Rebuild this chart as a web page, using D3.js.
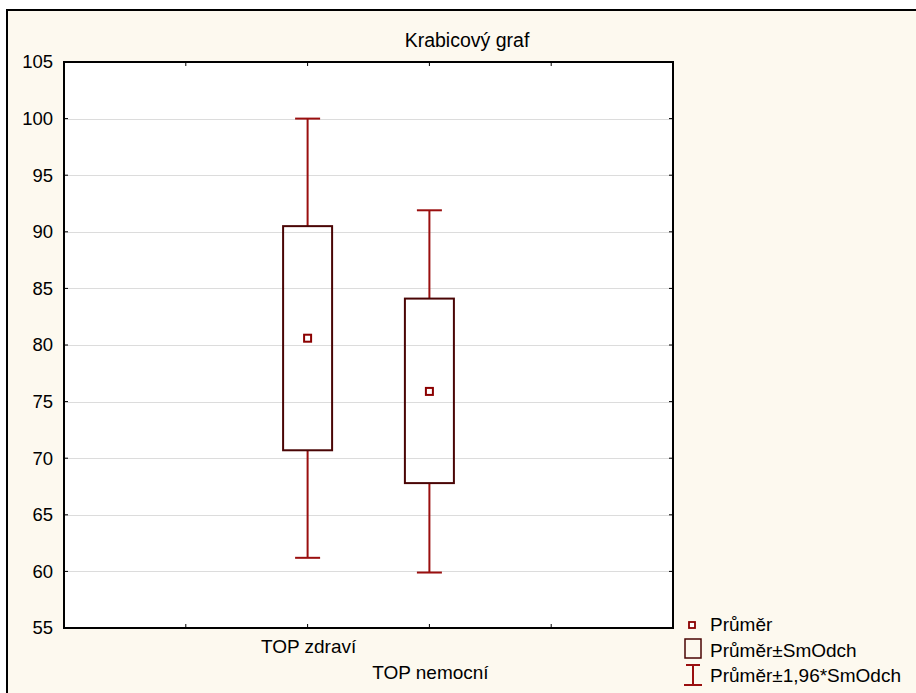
<!DOCTYPE html>
<html>
<head>
<meta charset="utf-8">
<script src="https://cdn.jsdelivr.net/npm/d3@7"></script>
<style>
  body { margin: 0; background: #fff; }
  svg text { font-family: "Liberation Sans", Arial, sans-serif; fill: #000; }
</style>
</head>
<body>
<svg id="chart"></svg>
<script>
// data
const categories = ['TOP zdraví', 'TOP nemocní'];
const means = [80.6, 75.9];
const boxLow = [70.7, 67.8];     // mean - SD
const boxHigh = [90.5, 84.1];    // mean + SD
const whiskLow = [61.2, 59.9];   // mean - 1.96*SD
const whiskHigh = [100.0, 91.9]; // mean + 1.96*SD
const yTicks = [55, 60, 65, 70, 75, 80, 85, 90, 95, 100, 105];
const legendLabels = ['Průměr', 'Průměr±SmOdch', 'Průměr±1,96*SmOdch'];

const width = 916, height = 693;
const margin = {top: 62, left: 64, right: 243, bottom: 65};
const w = width - margin.left - margin.right;
const h = height - margin.top - margin.bottom;

const svg = d3.select('#chart').attr('width', width).attr('height', height);

// cream page with frame
svg.append('rect').attr('x', 0).attr('y', 0).attr('width', width).attr('height', height).attr('fill', '#fff');
svg.append('rect')
  .attr('x', 7).attr('y', 10).attr('width', width).attr('height', height)
  .attr('fill', '#fdf9ef').attr('stroke', '#000').attr('stroke-width', 2);

// title is centred on the whole frame, not the plot
svg.append('text')
  .attr('x', 467).attr('y', 47)
  .attr('text-anchor', 'middle').style('font-size', '19.5px')
  .text('Krabicový graf');

const chart = svg.append('g').attr('transform', `translate(${margin.left},${margin.top})`);

// x positions: 5 equal slots, categories sit on the 2nd and 3rd dividers
const xSlots = d3.scaleLinear().domain([0, 5]).range([0, w]);
const xPos = i => xSlots(i + 2);
const y = d3.scaleLinear().domain([55, 105]).range([h, 0]);

chart.append('rect').attr('width', w).attr('height', h).attr('fill', '#fff');

// grid
chart.selectAll('.grid').data(yTicks.slice(1, -1)).join('line')
  .attr('x1', 0).attr('x2', w)
  .attr('y1', d => Math.round(y(d)) + 0.5).attr('y2', d => Math.round(y(d)) + 0.5)
  .attr('stroke', '#dcdcdc').attr('stroke-width', 1);

// axes with inward ticks
const yAxis = d3.axisLeft(y).tickValues(yTicks).tickSize(0).tickPadding(11);
const yG = chart.append('g').call(yAxis);
yG.select('.domain').remove();
yG.selectAll('text').style('font-size', '18.5px').attr('font-family', null);

chart.selectAll('.ytickL').data(yTicks).join('line')
  .attr('x1', 0).attr('x2', 4)
  .attr('y1', d => y(d)).attr('y2', d => y(d)).attr('stroke', '#000');
chart.selectAll('.ytickR').data(yTicks).join('line')
  .attr('x1', w - 4).attr('x2', w)
  .attr('y1', d => y(d)).attr('y2', d => y(d)).attr('stroke', '#000');
const xTickVals = d3.range(1, 5);
chart.selectAll('.xtickT').data(xTickVals).join('line')
  .attr('x1', d => xSlots(d)).attr('x2', d => xSlots(d))
  .attr('y1', 0).attr('y2', 4).attr('stroke', '#000');
chart.selectAll('.xtickB').data(xTickVals).join('line')
  .attr('x1', d => xSlots(d)).attr('x2', d => xSlots(d))
  .attr('y1', h - 4).attr('y2', h).attr('stroke', '#000');

chart.append('rect').attr('width', w).attr('height', h)
  .attr('fill', 'none').attr('stroke', '#000').attr('stroke-width', 2);

// category labels, staggered
chart.selectAll('.xlab').data(categories).join('text')
  .attr('x', (d, i) => xPos(i) + 1)
  .attr('y', (d, i) => h + 25 + i * 26)
  .attr('text-anchor', 'middle').style('font-size', '19px')
  .text(d => d);

// boxes
const boxW = 49, capW = 25;
const whisk = '#9a0f0f', boxCol = '#4a0505', meanCol = '#8b0000';

categories.forEach((c, i) => {
  const cx = xPos(i);
  chart.append('line').attr('x1', cx).attr('x2', cx)
    .attr('y1', y(whiskHigh[i])).attr('y2', y(boxHigh[i]))
    .attr('stroke', whisk).attr('stroke-width', 2);
  chart.append('line').attr('x1', cx).attr('x2', cx)
    .attr('y1', y(boxLow[i])).attr('y2', y(whiskLow[i]))
    .attr('stroke', whisk).attr('stroke-width', 2);
  [whiskHigh[i], whiskLow[i]].forEach(v => {
    chart.append('line').attr('x1', cx - capW / 2).attr('x2', cx + capW / 2)
      .attr('y1', y(v)).attr('y2', y(v))
      .attr('stroke', whisk).attr('stroke-width', 2);
  });
  chart.append('rect')
    .attr('x', cx - boxW / 2).attr('y', y(boxHigh[i]))
    .attr('width', boxW).attr('height', y(boxLow[i]) - y(boxHigh[i]))
    .attr('fill', 'none').attr('stroke', boxCol).attr('stroke-width', 2);
  chart.append('rect')
    .attr('x', cx - 3.5).attr('y', y(means[i]) - 3.5)
    .attr('width', 7).attr('height', 7)
    .attr('fill', '#fff').attr('stroke', meanCol).attr('stroke-width', 2);
});

// legend
const lg = svg.append('g').attr('transform', 'translate(684,625)');
lg.append('rect').attr('x', 5).attr('y', -3).attr('width', 6).attr('height', 6)
  .attr('fill', '#fff').attr('stroke', meanCol).attr('stroke-width', 1.8);
lg.append('rect').attr('x', 1).attr('y', 14).attr('width', 16).attr('height', 19)
  .attr('fill', 'none').attr('stroke', boxCol).attr('stroke-width', 1.5);
lg.append('line').attr('x1', 9).attr('x2', 9).attr('y1', 40).attr('y2', 60)
  .attr('stroke', whisk).attr('stroke-width', 2);
lg.append('line').attr('x1', 2).attr('x2', 16).attr('y1', 40).attr('y2', 40)
  .attr('stroke', whisk).attr('stroke-width', 2);
lg.append('line').attr('x1', 0).attr('x2', 18).attr('y1', 60).attr('y2', 60)
  .attr('stroke', whisk).attr('stroke-width', 2);
lg.selectAll('text').data(legendLabels).join('text')
  .attr('x', 26).attr('y', (d, i) => 6 + i * 25.5)
  .style('font-size', '19px')
  .text(d => d);
</script>
</body>
</html>
